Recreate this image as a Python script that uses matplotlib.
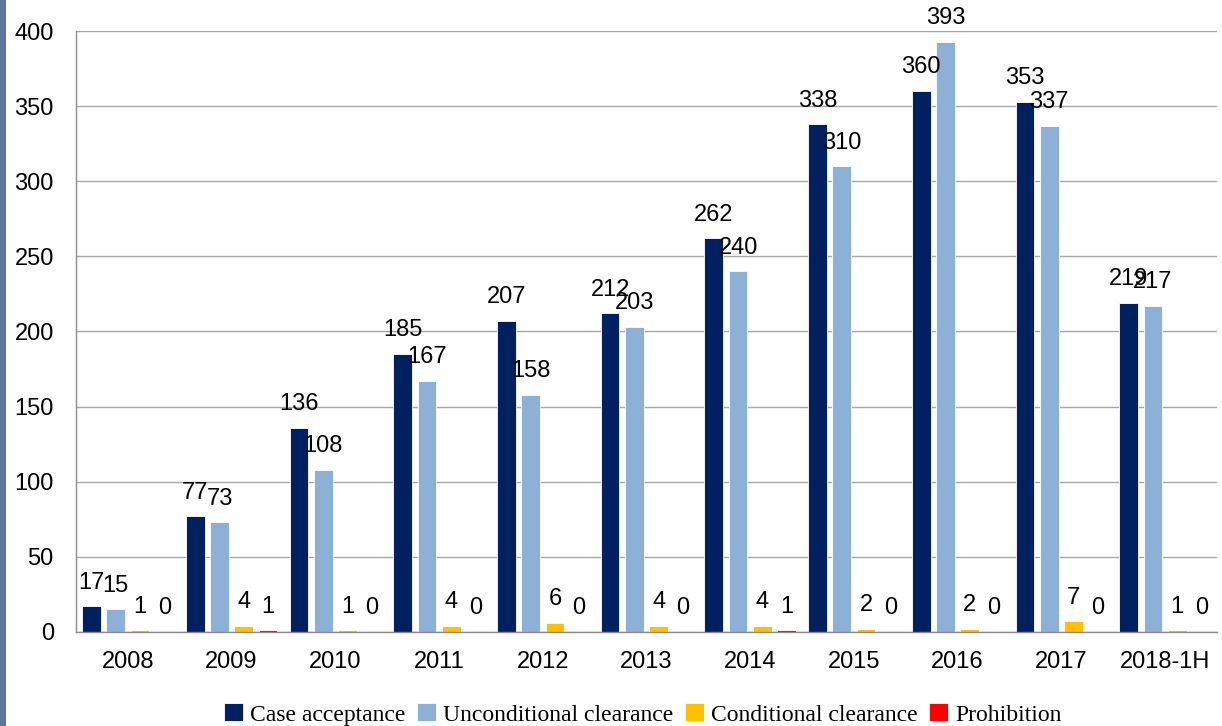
import matplotlib

matplotlib.use("Agg")
import matplotlib.pyplot as plt
import numpy as np
from matplotlib.patches import Rectangle

years = ["2008", "2009", "2010", "2011", "2012", "2013", "2014", "2015", "2016", "2017", "2018-1H"]
case_acceptance = [17, 77, 136, 185, 207, 212, 262, 338, 360, 353, 219]
unconditional = [15, 73, 108, 167, 158, 203, 240, 310, 393, 337, 217]
conditional = [1, 4, 1, 4, 6, 4, 4, 2, 2, 7, 1]
prohibition = [0, 1, 0, 0, 0, 0, 1, 0, 0, 0, 0]

series = [
    ("Case acceptance", case_acceptance, "#002060"),
    ("Unconditional clearance", unconditional, "#8DB0D6"),
    ("Conditional clearance", conditional, "#FFC000"),
    ("Prohibition", prohibition, "#FF0000"),
]

plt.rcParams["font.family"] = ["Liberation Sans", "DejaVu Sans"]

fig = plt.figure(figsize=(12.22, 7.26), dpi=100)
ax = fig.add_axes([0.0622, 0.1295, 0.9337, 0.8278])

# blue strip on the left edge
fig.patches.append(Rectangle((0, 0), 6 / 1222, 1, transform=fig.transFigure,
                             facecolor="#5E77A1", edgecolor="none"))

x = np.arange(len(years))
step = 0.234
width = 0.18
for i, (name, vals, color) in enumerate(series):
    pos = x + (i - 1.5) * step
    ax.bar(pos, vals, width, color=color, label=name, zorder=2,
           edgecolor="white", linewidth=0.6)
    for px, v in zip(pos, vals):
        ax.annotate(str(v), (px, v), xytext=(0, 17), textcoords="offset points",
                    ha="center", va="center", fontsize=17, zorder=3)

ax.set_xlim(-0.5, len(years) - 0.5)
ax.set_ylim(0, 400)
ax.set_yticks(range(0, 401, 50))
ax.set_xticks(x)
ax.set_xticklabels(years)
ax.tick_params(axis="both", length=0, labelsize=17)
ax.tick_params(axis="x", pad=14)
ax.tick_params(axis="y", pad=16)
ax.yaxis.grid(True, color="#A6A6A6", linewidth=1.0, zorder=0)
ax.set_axisbelow(True)
for s in ("top", "right"):
    ax.spines[s].set_visible(False)
for s in ("left", "bottom"):
    ax.spines[s].set_color("#8C8C8C")
    ax.spines[s].set_linewidth(1.0)

fig.legend(loc="center", bbox_to_anchor=(0.526, 0.016), ncol=4, frameon=False,
           prop={"family": ["Liberation Serif"], "size": 17},
           handlelength=0.8, handleheight=0.8, handletextpad=0.3, columnspacing=0.5)

fig.savefig("out.png", dpi=100)
